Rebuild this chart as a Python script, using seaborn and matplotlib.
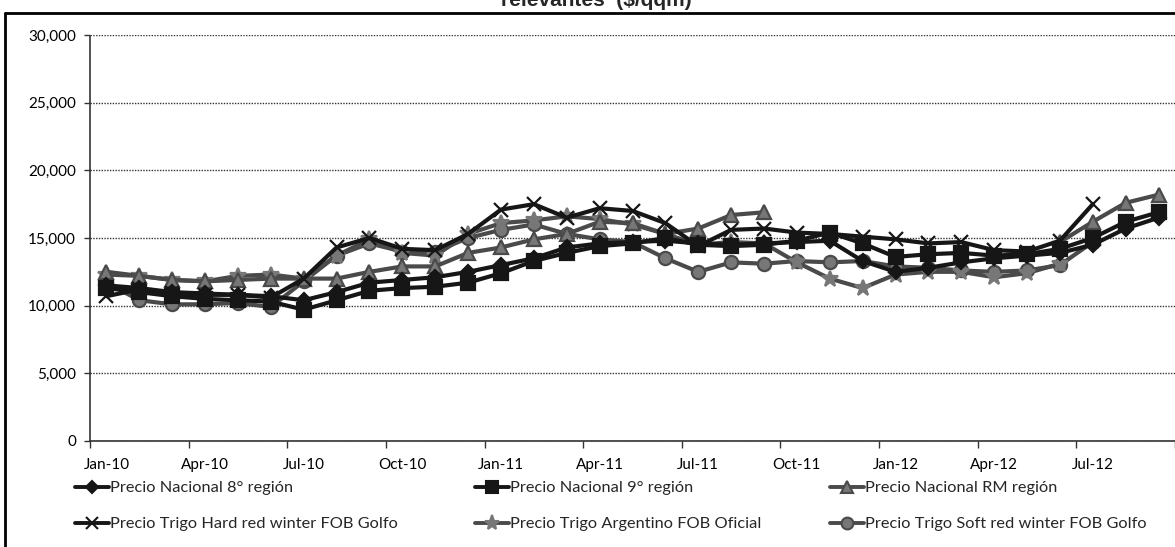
import numpy as np
import pandas as pd
import seaborn as sns
import matplotlib.pyplot as plt
from matplotlib.lines import Line2D

# monthly categories Jan-10 .. Sep-12
months = [d.strftime('%b-%y') for d in pd.date_range('2010-01-01', periods=33, freq='MS')]
nan = np.nan

nac8 = [11500, 11300, 11000, 10900, 10800, 10700, 10400, 11000, 11700, 11900, 12100, 12500,
        13000, 13500, 14300, 14600, 14700, 14800, 14600, 14500, 14600, 14700, 14800, 13300,
        12500, 12800, 13200, 13500, 13700, 13900, 14500, 15700, 16500]
nac9 = [11300, 11000, 10700, 10500, 10400, 10300, 9700, 10400, 11100, 11300, 11400, 11700,
        12400, 13300, 13900, 14400, 14600, 15000, 14500, 14400, 14500, 14800, 15400, 14600,
        13600, 13800, 13900, 13700, 13800, 14200, 15000, 16200, 16900]
nac_rm = [12500, 12200, 11900, 11800, 11900, 12000, 12000, 12000, 12500, 12900, 12900, 13900,
          14300, 14900, 15300, 16200, 16100, 15300, 15700, 16700, 16900, nan, nan, nan,
          nan, nan, nan, nan, nan, 14700, 16200, 17600, 18200]
hrw = [10700, 11200, 10900, 10800, 10800, 10600, 12000, 14300, 15000, 14200, 14100, 15300,
       17100, 17500, 16500, 17200, 17000, 16100, 14400, 15600, 15700, 15400, 15300, 15100,
       14900, 14600, 14700, 14100, 14000, 14800, 17500, nan, nan]
argentino = [12300, 12200, 11900, 11800, 12200, 12300, 12000, 13700, 14900, 13900, 13700, 15300,
             16100, 16300, 16600, 16400, 16000, 15300, 14500, 14700, 14600, 13200, 12000, 11300,
             12300, 12500, 12500, 12100, 12400, 13100, nan, nan, nan]
soft = [11700, 10400, 10100, 10100, 10200, 9900, 11800, 13700, 14600, 14000, 14000, 15000,
        15600, 16000, 15300, 14900, 14700, 13500, 12500, 13200, 13100, 13300, 13200, 13300,
        12900, 12800, 12600, 12500, 12600, 13000, 14700, nan, nan]

labels = ['Precio Nacional 8° región', 'Precio Nacional 9° región', 'Precio Nacional RM región',
          'Precio Trigo Hard red winter FOB Golfo', 'Precio Trigo Argentino FOB Oficial',
          'Precio Trigo Soft red winter FOB Golfo']

sns.set_theme(style='white')
plt.rcParams['font.family'] = ['Lato', 'DejaVu Sans']

fig = plt.figure(figsize=(11.75, 5.47), dpi=100)
ax = fig.add_axes([90 / 1175, 1 - 441 / 547, 1085 / 1175, 406 / 547])

black, gray, mgray = '#161616', '#4a4a4a', '#777777'
styles = [
    dict(color=black, marker='D', ms=7.5, mfc=black, mec=black),
    dict(color=black, marker='s', ms=9.5, mfc=black, mec=black),
    dict(color=gray, marker='^', ms=9.5, mfc=mgray, mec=gray),
    dict(color=black, marker='x', ms=10, mfc=black, mec=black),
    dict(color=gray, marker='*', ms=12, mfc=mgray, mec=mgray),
    dict(color=gray, marker='o', ms=9.5, mfc=mgray, mec=gray),
]
# draw in an order so the gray series sit below the black ones
order = [5, 4, 2, 3, 0, 1]
series = [nac8, nac9, nac_rm, hrw, argentino, soft]
x = np.arange(len(months))
for k in order:
    df = pd.DataFrame({'x': x, 'y': series[k]})
    df['seg'] = df['y'].isna().cumsum()
    for _, seg in df.dropna().groupby('seg'):
        st = styles[k]
        sns.lineplot(data=seg, x='x', y='y', ax=ax, color=st['color'], lw=3,
                     marker=st['marker'], markersize=st['ms'], markerfacecolor=st['mfc'],
                     markeredgecolor=st['mec'], markeredgewidth=1.6, legend=False)

ax.set_xlim(-0.5, -0.5 + 1085 / 33.03)
ax.set_ylim(0, 30000)
ax.set_xlabel('')
ax.set_ylabel('')
ax.set_xticks(x[::3])
ax.set_xticklabels(months[::3])
ax.set_xticks(np.arange(-0.5, 33, 3), minor=True)
ax.set_yticks(np.arange(0, 30001, 5000))
ax.set_yticklabels([f'{v:,}' for v in range(0, 30001, 5000)])
ax.tick_params(axis='x', which='major', length=0, pad=12, labelsize=11, colors='black')
ax.tick_params(axis='x', which='minor', bottom=True, length=5, width=1, color='#333333')
ax.tick_params(axis='y', left=True, length=4, width=1, color='#333333', pad=6,
               labelsize=11, colors='black')
ax.yaxis.grid(True, linestyle=(0, (1, 1)), color='#333333', lw=1)
for s in ['top', 'right']:
    ax.spines[s].set_visible(False)
for s in ['left', 'bottom']:
    ax.spines[s].set_linestyle((0, (1, 1)))
    ax.spines[s].set_color('#333333')
    ax.spines[s].set_linewidth(1.2)

handles = []
for k in range(6):
    st = styles[k]
    handles.append(Line2D([], [], color=st['color'], lw=2.8, marker=st['marker'],
                          markersize=st['ms'] - 1, markerfacecolor=st['mfc'],
                          markeredgecolor=st['mec'], markeredgewidth=1.5, label=labels[k]))
cols = [(handles[0], handles[3]), (handles[1], handles[4]), (handles[2], handles[5])]
col_x = [75, 475, 830]
for (h1, h2), cx in zip(cols, col_x):
    fig.legend(handles=[h1, h2], loc='upper left', bbox_to_anchor=(cx / 1175, 1 - 481 / 547),
               frameon=False, fontsize=11.8, handlelength=2.1, handletextpad=0.05,
               labelspacing=1.3, borderpad=0, borderaxespad=0)

fig.text(596 / 1175, 1 - 6 / 547, 'relevantes  ($/qqm)', ha='center', va='baseline',
         fontsize=15, fontweight='bold', family=['Liberation Sans', 'DejaVu Sans'])
# outer frame of the pasted chart
fig.add_artist(Line2D([5 / 1175, 1], [1 - 13 / 547, 1 - 13 / 547], color='black', lw=2))
fig.add_artist(Line2D([5 / 1175, 5 / 1175], [0, 1 - 13 / 547], color='black', lw=2))

fig.savefig('out.png', dpi=100)
